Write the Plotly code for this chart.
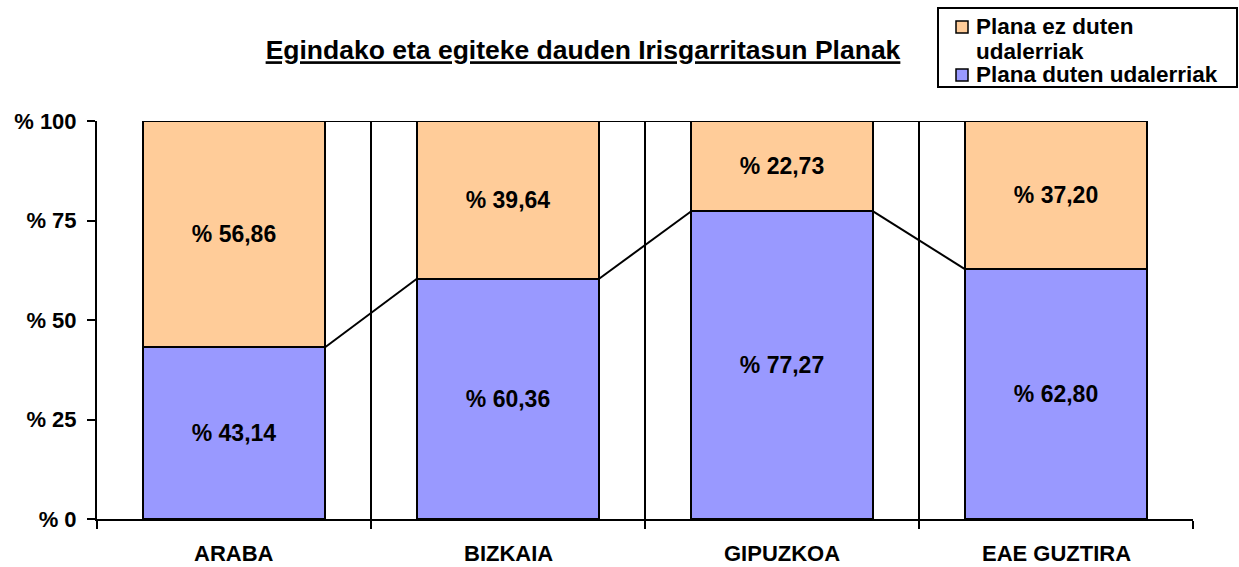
import plotly.graph_objects as go

categories = ["ARABA", "BIZKAIA", "GIPUZKOA", "EAE GUZTIRA"]
plana_duten = [43.14, 60.36, 77.27, 62.80]
plana_ez_duten = [56.86, 39.64, 22.73, 37.20]
series_names = ["Plana duten udalerriak", "Plana ez duten udalerriak"]
legend_lines = [["Plana ez duten", "udalerriak"], ["Plana duten udalerriak"]]
y_ticks = [0, 25, 50, 75, 100]
y_ticklabels = ["% 0", "% 25", "% 50", "% 75", "% 100"]
title_text = "Egindako eta egiteke dauden Irisgarritasun Planak"

FONT = "Liberation Sans, Arial, sans-serif"
BLUE = "#9999FF"
ORANGE = "#FFCC99"
W = 0.665
FW, FH = 1239, 567

def fmt(v):
    return "% " + f"{v:.2f}".replace(".", ",")

xs = list(range(len(categories)))

fig = go.Figure()
fig.add_trace(go.Bar(
    x=xs, y=plana_duten, width=W, name=series_names[0],
    marker=dict(color=BLUE, line=dict(color="black", width=2)),
    text=[fmt(v) for v in plana_duten], textposition="inside",
    insidetextanchor="middle", textangle=0,
    textfont=dict(family=FONT, size=23, color="black", weight="bold"),
    hoverinfo="skip", showlegend=False,
))
fig.add_trace(go.Bar(
    x=xs, y=plana_ez_duten, width=W, name=series_names[1],
    marker=dict(color=ORANGE, line=dict(color="black", width=2)),
    text=[fmt(v) for v in plana_ez_duten], textposition="inside",
    insidetextanchor="middle", textangle=0,
    textfont=dict(family=FONT, size=23, color="black", weight="bold"),
    hoverinfo="skip", showlegend=False,
))

# series lines between bars (Excel style)
tops = [a + b for a, b in zip(plana_duten, plana_ez_duten)]
for series in (plana_duten, tops):
    for i in range(len(xs) - 1):
        fig.add_trace(go.Scatter(
            x=[xs[i] + W / 2, xs[i + 1] - W / 2],
            y=[series[i], series[i + 1]],
            mode="lines", line=dict(color="black", width=2),
            showlegend=False, hoverinfo="skip",
        ))

for i, c in enumerate(categories):
    fig.add_annotation(
        x=xs[i], y=0, xref="x", yref="y", yshift=-34, text=c,
        showarrow=False,
        font=dict(family=FONT, size=22, color="black", weight="bold"),
    )

def cx(px):
    return px / FW

def cy(py):
    return 1 - py / FH

L, R, T, B = 97, 46, 121, 48
PW, PH = FW - L - R, FH - T - B

def px2paper_x(px):
    return (px - L) / PW

def px2paper_y(py):
    return (FH - B - py) / PH

# legend box
fig.add_shape(type="rect", xref="paper", yref="paper",
              x0=px2paper_x(938), x1=px2paper_x(1237),
              y0=px2paper_y(87), y1=px2paper_y(8),
              line=dict(color="black", width=2), fillcolor="white")
legend_colors = [ORANGE, BLUE]
square_tops = [21, 69]
text_rows = [[27, 51], [74]]
for k in range(2):
    fig.add_shape(type="rect", xref="paper", yref="paper",
                  x0=px2paper_x(956), x1=px2paper_x(968),
                  y0=px2paper_y(square_tops[k] + 12), y1=px2paper_y(square_tops[k]),
                  line=dict(color="black", width=1.5), fillcolor=legend_colors[k])
    for line_text, ypx in zip(legend_lines[k], text_rows[k]):
        fig.add_annotation(
            x=px2paper_x(975), y=px2paper_y(ypx), xref="paper", yref="paper",
            xanchor="left", yanchor="middle", text=line_text, showarrow=False,
            borderpad=0,
            font=dict(family=FONT, size=22.5, color="black", weight="bold"),
        )

fig.update_layout(
    barmode="stack",
    width=FW, height=FH,
    margin=dict(l=L, r=R, t=T, b=B, autoexpand=False),
    paper_bgcolor="white", plot_bgcolor="white",
    title=dict(
        text=title_text, x=cx(583), xanchor="center", y=cy(50), yanchor="middle",
        font=dict(family=FONT, size=26.5, color="black", weight="bold",
                  lineposition="under"),
    ),
    showlegend=False,
    xaxis=dict(
        range=[-0.5, len(categories) - 0.5],
        tickvals=[i - 0.5 for i in range(len(categories) + 1)],
        ticktext=[""] * (len(categories) + 1),
        ticks="outside", ticklen=8, tickwidth=2, tickcolor="black",
        showgrid=True, gridcolor="black", gridwidth=2,
        showline=True, linecolor="black", linewidth=2,
        zeroline=False, fixedrange=True,
    ),
    yaxis=dict(
        range=[0, 100],
        tickvals=y_ticks, ticktext=y_ticklabels,
        ticks="outside", ticklen=8, tickwidth=2, tickcolor="black",
        showgrid=False, showline=True, linecolor="black", linewidth=2,
        zeroline=False, fixedrange=True,
        tickfont=dict(family=FONT, size=22, color="black", weight="bold"),
        ticklabelstandoff=6,
    ),
)

fig.write_html("out.html", config={"displayModeBar": False},
               post_script="document.body.style.margin='0';document.body.style.overflow='hidden';")
